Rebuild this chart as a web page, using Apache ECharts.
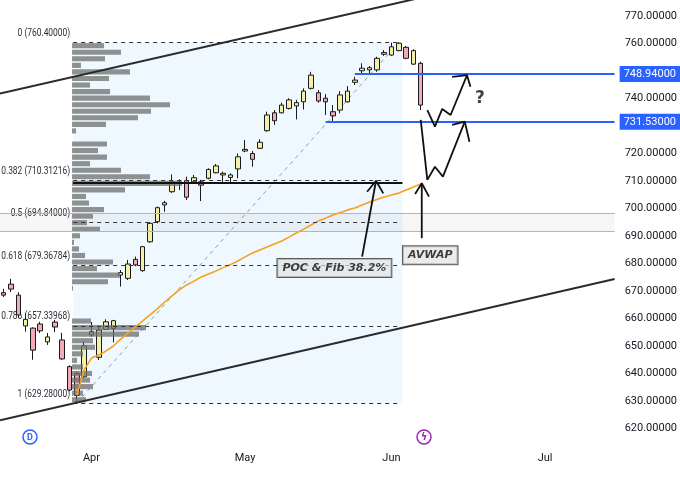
<!DOCTYPE html>
<html>
<head>
<meta charset="utf-8">
<script src="https://cdn.jsdelivr.net/npm/echarts@6/dist/echarts.min.js"></script>
<style>
  html, body { margin: 0; padding: 0; background: #fff; }
  #chart { width: 680px; height: 480px; }
</style>
</head>
<body>
<div id="chart"></div>
<script>
// daily candles [open, close, low, high]
var candles = [
  [669.4, 668.5, 667.8, 670.8], [672.5, 670.7, 669.6, 674.4], [668.5, 661.3, 660.2, 669.6],
  [657.3, 659.7, 655.2, 661.9], [656.5, 648.5, 645.0, 656.8], [658.0, 655.5, 654.7, 658.8],
  [651.5, 653.3, 650.4, 654.7], [658.7, 656.9, 655.0, 659.5], [652.2, 645.3, 645.0, 654.8],
  [642.5, 634.0, 633.5, 643.0], [640.0, 632.0, 629.28, 640.7], [638.8, 650.1, 638.4, 651.6],
  [654.0, 655.2, 653.4, 658.7], [645.9, 655.8, 644.9, 657.0], [656.0, 658.8, 655.8, 659.7],
  [656.4, 659.2, 651.3, 659.5], [675.8, 676.7, 671.6, 677.6], [674.6, 679.8, 674.0, 681.3],
  [681.5, 679.5, 679.0, 682.5], [677.4, 686.1, 677.0, 686.4], [687.9, 694.6, 687.5, 695.0],
  [695.2, 700.3, 694.6, 700.7], [701.3, 702.1, 698.8, 702.8], [706.1, 709.7, 705.7, 712.4],
  [709.1, 709.7, 706.7, 710.6], [710.1, 704.1, 703.1, 711.6], [709.7, 711.2, 709.2, 712.2],
  [709.7, 708.5, 702.7, 710.4], [711.0, 714.2, 710.6, 714.6], [713.0, 715.5, 712.8, 716.2],
  [712.2, 712.8, 709.7, 713.4], [711.3, 712.2, 709.2, 712.8], [714.4, 718.8, 711.0, 720.0],
  [720.9, 721.5, 720.5, 724.9], [720.0, 717.9, 715.2, 720.9], [721.9, 724.1, 721.6, 725.2],
  [728.3, 734.0, 727.9, 735.2], [734.8, 731.9, 730.4, 735.8], [734.8, 737.6, 734.6, 738.5],
  [736.4, 739.5, 736.0, 740.1], [737.3, 738.5, 732.4, 739.5], [738.8, 742.7, 736.0, 743.7],
  [743.7, 748.5, 743.3, 749.7], [742.1, 739.1, 738.5, 743.1], [740.1, 738.8, 734.0, 741.6],
  [735.2, 733.7, 731.6, 737.6], [735.8, 741.3, 734.6, 742.7], [738.8, 742.7, 738.5, 744.5],
  [745.9, 746.7, 744.9, 747.9], [750.1, 751.0, 749.2, 752.8], [750.4, 751.2, 749.2, 751.8],
  [750.4, 754.6, 749.7, 755.2], [756.1, 756.7, 755.5, 757.6], [755.8, 758.8, 755.5, 760.3],
  [757.4, 760.1, 757.2, 760.4], [758.6, 754.6, 754.3, 759.1], [752.5, 757.4, 752.2, 757.9],
  [752.8, 737.6, 735.8, 753.4]
];
var barCount = 84;
var monthTicks = { 12: 'Apr', 33: 'May', 53: 'Jun', 74: 'Jul' };

// anchored vwap from the swing low bar
var avwapStart = 10;
var avwap = [
  632.2, 641.3, 645.6, 646.7, 648.2, 650.0, 652.5, 654.7, 656.9, 659.1,
  661.3, 663.5, 666.0, 668.2, 670.4, 672.2, 673.6, 675.1, 676.2, 677.3,
  678.5, 679.6, 680.9, 682.4, 683.8, 684.9, 686.0, 687.1, 688.2, 689.6,
  691.1, 692.5, 694.0, 695.5, 696.5, 697.6, 698.5, 699.5, 700.2, 701.3,
  702.4, 703.3, 704.2, 704.9, 705.6, 706.7, 707.8, 708.9
];

// fixed range volume profile, 55 rows from high to low
var profileHigh = 760.4, profileLow = 629.28;
var profileFrom = 9.5, profileTo = 54.5;
var profileVolume = [
  32, 49, 33, 9, 58, 37, 18, 38, 78, 98,
  79, 66, 34, 4, 0, 35, 26, 35, 18, 49,
  78, 110, 53, 14, 17, 32, 21, 15, 28, 8,
  2, 7, 13, 41, 25, 48, 36, 1, 0, 0,
  0, 0, 19, 74, 67, 21, 23, 11, 5, 11,
  20, 18, 21, 11, 14
];
var pocLevel = 709.5;

var fibRatios = ['0', '0.382', '0.5', '0.618', '0.786', '1'];
var fibLevels = [760.4, 710.31216, 694.84, 679.36784, 657.33968, 629.28];
var fibTrend = [[10, 629.28], [54, 760.4]];
var zoneBand = [698.2, 691.6];

var keyLevels = [748.94, 731.53];
var keyLevelStart = [48, 44];

var channelTop = [[-0.5, 741.8], [57.4, 776.9]];
var channelBottom = [[-0.5, 623.0], [83.5, 674.4]];

// hand drawn scenario arrows [bar, price]
var drawings = [
  [[57.9, 735.8], [58.94, 729.75], [59.94, 736.2], [61.08, 734.0], [63.33, 748.5]],
  [[61.29, 747.9], [63.33, 748.5], [63.79, 744.3]],
  [[57.0, 732.2], [57.9, 710.4], [58.94, 715.2], [60.03, 711.6], [63.02, 731.6]],
  [[61.29, 730.4], [63.02, 731.6], [63.66, 724.3]],
  [[57.14, 689.2], [57.14, 709.2]],
  [[56.23, 705.3], [57.14, 709.2], [58.13, 704.3]],
  [[48.99, 682.5], [50.89, 710.1]],
  [[49.67, 706.1], [50.89, 710.1], [51.88, 705.5]]
];
var notes = [
  { text: 'POC & Fib 38.2%', at: [45.2, 678.4] },
  { text: 'AVWAP', at: [58.3, 683.0] }
];
var question = [65.1, 739.8];

var cats = [];
for (var i = 0; i < barCount; i++) cats.push(monthTicks[i] || '');

var avwapData = avwap.map(function (v, k) { return [avwapStart + k, v]; });
var rows = profileVolume.map(function (v, k) { return 'r' + k; });

var fibLines = fibLevels.map(function (lv) {
  return [{ coord: [profileFrom, lv] }, { coord: [54, lv] }];
});

var series = [
  {
    type: 'line', xAxisIndex: 1, yAxisIndex: 0, data: [], z: 0, silent: true,
    markArea: {
      silent: true,
      data: [
        [{ coord: [profileFrom, profileHigh], itemStyle: { color: 'rgba(33,150,243,0.07)' } },
         { coord: [profileTo, profileLow] }],
        [{ coord: [-0.5, zoneBand[0]], itemStyle: { color: 'rgba(0,0,0,0.035)' } },
         { coord: [83.5, zoneBand[1]] }]
      ]
    },
    markLine: {
      silent: true, symbol: 'none', label: { show: false },
      lineStyle: { color: '#b2b5be', width: 1, type: 'solid' },
      data: [
        [{ coord: [-0.5, zoneBand[0]] }, { coord: [83.5, zoneBand[0]] }],
        [{ coord: [-0.5, zoneBand[1]] }, { coord: [83.5, zoneBand[1]] }]
      ]
    }
  },
  {
    type: 'line', xAxisIndex: 1, yAxisIndex: 0, data: fibTrend, z: 1, silent: true,
    showSymbol: false, lineStyle: { color: '#9a9a9a', width: 1, type: [4, 4] },
    markLine: {
      silent: true, symbol: 'none', label: { show: false },
      lineStyle: { color: '#333', width: 1, type: [4, 4] },
      data: fibLines
    }
  },
  {
    type: 'candlestick', xAxisIndex: 0, yAxisIndex: 0, data: candles, z: 2,
    barWidth: 5,
    itemStyle: {
      color: '#f4f1a6', color0: '#f3a9b7',
      borderColor: '#1a1a1a', borderColor0: '#1a1a1a', borderWidth: 1
    }
  },
  {
    type: 'line', xAxisIndex: 1, yAxisIndex: 0, data: avwapData, z: 4, silent: true,
    showSymbol: false, lineStyle: { color: '#f5a21b', width: 1.6 }
  },
  {
    type: 'line', xAxisIndex: 1, yAxisIndex: 0, data: [], z: 4, silent: true,
    markLine: {
      silent: true, symbol: 'none',
      lineStyle: { color: '#111', width: 2, type: 'solid' },
      label: { show: false },
      data: [[{ coord: [profileFrom, pocLevel] }, { coord: [profileTo, pocLevel] }]]
    }
  },
  {
    type: 'line', xAxisIndex: 1, yAxisIndex: 0, data: [], z: 5, silent: true,
    markLine: {
      silent: true, symbol: 'none',
      lineStyle: { color: '#2962ff', width: 2, type: 'solid' },
      label: {
        show: true, position: 'end', distance: 5,
        formatter: function (p) { return p.value.toFixed(5); },
        color: '#fff', backgroundColor: '#2962ff', padding: [3, 4, 2, 4],
        fontSize: 11, fontFamily: 'Roboto'
      },
      data: keyLevels.map(function (lv, k) {
        return [{ coord: [keyLevelStart[k], lv], value: lv }, { coord: [83.5, lv], value: lv }];
      })
    }
  },
  {
    type: 'line', xAxisIndex: 1, yAxisIndex: 0, data: channelTop, z: 5, silent: true,
    showSymbol: false, lineStyle: { color: '#2b2b2b', width: 2 }
  },
  {
    type: 'line', xAxisIndex: 1, yAxisIndex: 0, data: channelBottom, z: 5, silent: true,
    showSymbol: false, lineStyle: { color: '#2b2b2b', width: 2 }
  },
  {
    type: 'bar', xAxisIndex: 2, yAxisIndex: 1, data: profileVolume, z: 3, silent: true,
    barCategoryGap: '22%',
    itemStyle: { color: 'rgba(112,112,112,0.76)' }
  },
  {
    type: 'scatter', xAxisIndex: 1, yAxisIndex: 0, z: 7, silent: true, symbolSize: 0,
    data: notes.map(function (n) { return { value: n.at, name: n.text }; }),
    label: {
      show: true, position: 'inside', formatter: '{b}',
      color: '#111', fontSize: 11, fontStyle: 'italic', fontWeight: 'bold',
      fontFamily: 'DejaVu Sans',
      backgroundColor: 'rgba(226,226,226,0.85)', borderColor: '#333', borderWidth: 1,
      padding: [4, 5, 3, 5]
    }
  },
  {
    type: 'scatter', xAxisIndex: 1, yAxisIndex: 0, z: 7, silent: true, symbolSize: 0,
    data: [{ value: question, name: '?' }],
    label: {
      show: true, position: 'inside', formatter: '{b}',
      color: '#111', fontSize: 17, fontWeight: 'bold', fontFamily: 'DejaVu Sans'
    }
  }
];

drawings.forEach(function (pts) {
  series.push({
    type: 'line', xAxisIndex: 1, yAxisIndex: 0, data: pts, z: 6, silent: true,
    showSymbol: false, lineStyle: { color: '#111', width: 1.8 }
  });
});

var option = {
  animation: false,
  backgroundColor: '#fff',
  grid: [
    { left: 0, right: 63, top: 0, bottom: 24 },
    { left: 72, width: 150, top: 42.4, bottom: 77 }
  ],
  xAxis: [
    {
      type: 'category', gridIndex: 0, data: cats, boundaryGap: true,
      axisLine: { show: false }, axisTick: { show: false }, splitLine: { show: false },
      axisLabel: {
        interval: 0, margin: -3, color: '#131722', fontSize: 11, fontFamily: 'Roboto'
      }
    },
    { type: 'value', gridIndex: 0, min: -0.5, max: barCount - 0.5, show: false },
    { type: 'value', gridIndex: 1, min: 0, max: 150, show: false }
  ],
  yAxis: [
    {
      type: 'value', gridIndex: 0, position: 'right', min: 610, max: 775.82, interval: 10,
      axisLine: { show: false }, axisTick: { show: false }, splitLine: { show: false },
      axisLabel: {
        margin: 10, color: '#131722', fontSize: 11, fontFamily: 'Roboto',
        showMinLabel: false, showMaxLabel: false,
        formatter: function (v) { return (v <= 610 || v > 770.5) ? '' : v.toFixed(5); }
      }
    },
    { type: 'category', gridIndex: 1, data: rows, inverse: true, show: false }
  ],
  series: series
};

var myChart = echarts.init(document.getElementById('chart'));
myChart.setOption(option);

// fib level captions, placed left of the range start through the chart's own scales
var marks = [
  { type: 'circle', shape: { cx: 30, cy: 437, r: 7 }, style: { fill: '#fff', stroke: '#2962ff', lineWidth: 1.5 } },
  { type: 'text', x: 30, y: 437.5, style: { text: 'D', fill: '#2962ff', font: 'bold 9px Roboto', align: 'center', verticalAlign: 'middle' } },
  { type: 'circle', shape: { cx: 424, cy: 437, r: 7 }, style: { fill: '#fff', stroke: '#9c27b0', lineWidth: 1.5 } },
  { type: 'text', x: 424, y: 437.5, style: { text: 'ϟ', fill: '#9c27b0', font: 'bold 10px DejaVu Sans', align: 'center', verticalAlign: 'middle' } }
];
fibLevels.forEach(function (lv, k) {
  var p = myChart.convertToPixel({ xAxisIndex: 1, yAxisIndex: 0 }, [profileFrom, lv]);
  marks.push({
    type: 'text', x: p[0] - 3, y: p[1] - 9, scaleX: 0.8, z: 1, silent: true,
    style: {
      text: fibRatios[k] + ' (' + lv.toFixed(5) + ')', fill: '#2a2e39',
      font: '10.5px Roboto', align: 'right', verticalAlign: 'middle'
    }
  });
});
myChart.setOption({ graphic: marks });
</script>
</body>
</html>
